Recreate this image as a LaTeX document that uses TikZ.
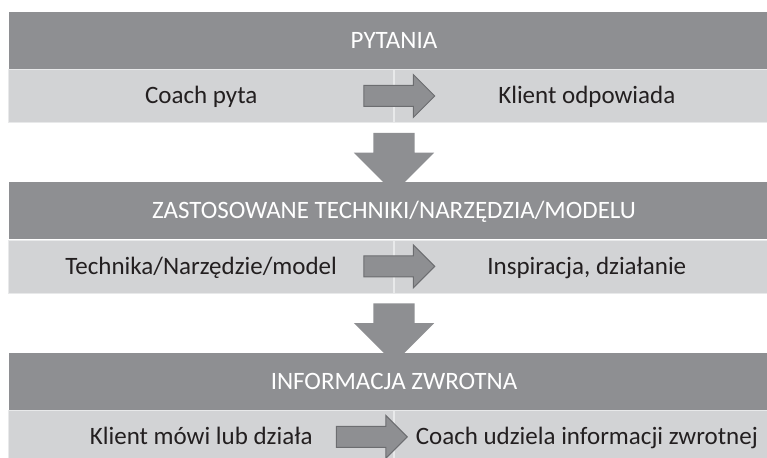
\documentclass[tikz,border=0pt]{standalone}
\usepackage{fontspec}
\setmainfont{Carlito}
\usetikzlibrary{shapes.arrows, positioning, calc}

\definecolor{headgray}{RGB}{142,143,146}
\definecolor{rowgray}{RGB}{210,211,213}
\definecolor{rowline}{RGB}{232,233,234}
\definecolor{arrowline}{RGB}{108,109,112}
\definecolor{textgray}{RGB}{35,31,32}

\tikzset{
    header/.style={fill=headgray, text=white, minimum width=770pt, minimum height=57pt,
        inner sep=0pt, text height=16pt, text depth=0pt, font=\fontsize{25}{30}\selectfont},
    cell/.style={fill=rowgray, draw=rowline, line width=0.6pt, text=textgray, minimum width=385pt,
        minimum height=53pt, inner sep=0pt, text height=16pt, text depth=0pt,
        font=\fontsize{25}{30}\selectfont},
    flowarrow/.style={single arrow, fill=headgray, draw=arrowline, line width=1pt,
        minimum height=71pt, inner xsep=0pt, inner ysep=10pt, single arrow head extend=11pt},
    downarrow/.style={single arrow, fill=headgray, rotate=-90, minimum height=60pt,
        inner xsep=0pt, inner ysep=20.5pt, single arrow head extend=19.5pt}
}

\begin{document}
\begin{tikzpicture}[x=1pt, y=-1pt]
    \clip (0,0) rectangle (767,457);

    % pytania
    \node[header] (pyt) at (394,40.5) {PYTANIA};
    \node[cell, anchor=north east] (coach) at (pyt.south) {Coach pyta};
    \node[cell, anchor=north west] (klient) at (pyt.south) {Klient odpowiada};

    % techniki
    \node[header, below=113pt of pyt] (tech) {ZASTOSOWANE TECHNIKI/NARZĘDZIA/MODELU};
    \node[cell, anchor=north east] (technika) at (tech.south) {Technika/Narzędzie/model};
    \node[cell, anchor=north west] (inspiracja) at (tech.south) {Inspiracja, działanie};

    % informacja zwrotna
    \node[header, below=113pt of tech] (info) {INFORMACJA ZWROTNA};
    \node[cell, anchor=north east] (mowi) at (info.south) {Klient mówi lub działa};
    \node[cell, anchor=north west] (udziela) at (info.south) {Coach udziela informacji zwrotnej};

    \node[flowarrow] (a1) at (coach.east) {};
    \node[flowarrow] (a2) at (technika.east) {};
    \node[flowarrow, xshift=-27.5pt] (a3) at (mowi.east) {};

    \node[downarrow] (d1) at ($(coach.south east)!0.5!(tech.north)$) {};
    \node[downarrow] (d2) at ($(technika.south east)!0.5!(info.north)$) {};
\end{tikzpicture}
\end{document}
